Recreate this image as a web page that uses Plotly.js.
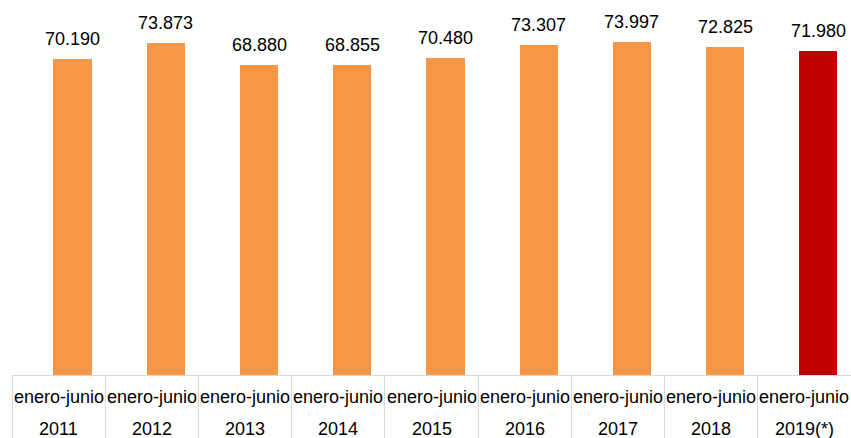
<!DOCTYPE html>
<html>
<head>
<meta charset="utf-8">
<script src="https://cdn.plot.ly/plotly-3.0.1.min.js"></script>
<style>
  html, body { margin: 0; padding: 0; background: #ffffff; }
  #chart { width: 851px; height: 438px; }
</style>
</head>
<body>
<div id="chart"></div>
<script>
// ---- data ----
const periodLabel = "enero-junio";
const years = ["2011", "2012", "2013", "2014", "2015", "2016", "2017", "2018", "2019(*)"];
const values = [70190, 73873, 68880, 68855, 70480, 73307, 73997, 72825, 71980];

// ---- styles ----
const ORANGE = "#F79646";
const RED = "#C00000";
const GRID = "#d9d9d9";
const FONT = "Liberation Sans, Arial, sans-serif";
const barShiftPx = 14;

const colors = years.map((y, i) => (i === years.length - 1 ? RED : ORANGE));

function fmt(v) {
  return String(Math.round(v)).replace(/\B(?=(\d{3})+(?!\d))/g, ".");
}

const trace = {
  type: "bar",
  x: years,
  y: values,
  width: 0.41,
  offset: -0.055,
  marker: { color: colors, line: { width: 0 } },
  hoverinfo: "skip"
};

const annotations = [];
years.forEach((yr, i) => {
  annotations.push({
    x: i, y: values[i], xref: "x", yref: "y",
    text: fmt(values[i]), showarrow: false,
    xanchor: "center", yanchor: "bottom",
    xshift: barShiftPx, yshift: 8,
    font: { family: FONT, size: 18, color: "#000000" }
  });
  annotations.push({
    x: i, y: 0, xref: "x", yref: "paper",
    text: periodLabel, showarrow: false,
    xanchor: "center", yanchor: "top",
    yshift: -10,
    font: { family: FONT, size: 18, color: "#000000" }
  });
  annotations.push({
    x: i, y: 0, xref: "x", yref: "paper",
    text: yr, showarrow: false,
    xanchor: "center", yanchor: "top",
    yshift: -42,
    font: { family: FONT, size: 18, color: "#000000" }
  });
});

const layout = {
  width: 851,
  height: 438,
  margin: { l: 12, r: 0, t: 0, b: 63, pad: 0 },
  paper_bgcolor: "#ffffff",
  plot_bgcolor: "#ffffff",
  showlegend: false,
  bargap: 0,
  font: { family: FONT, size: 18, color: "#000000" },
  xaxis: {
    type: "category",
    range: [-0.5, 8.5],
    showticklabels: false,
    ticks: "outside",
    tickson: "boundaries",
    ticklen: 64,
    tickwidth: 1,
    tickcolor: GRID,
    showline: true,
    linecolor: GRID,
    linewidth: 1,
    showgrid: false,
    zeroline: false,
    fixedrange: true
  },
  yaxis: {
    range: [0, 83333],
    visible: false,
    showgrid: false,
    zeroline: false,
    fixedrange: true
  },
  annotations: annotations
};

Plotly.newPlot("chart", [trace], layout, { displayModeBar: false, staticPlot: true });
</script>
</body>
</html>
